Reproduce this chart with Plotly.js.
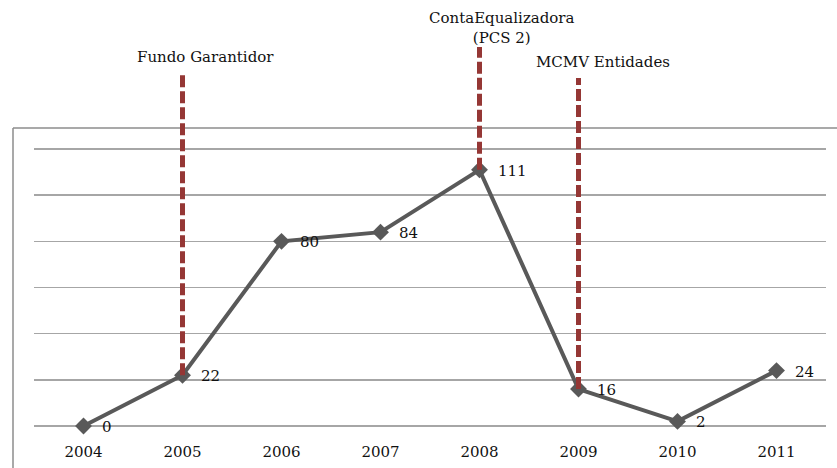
<!DOCTYPE html>
<html>
<head>
<meta charset="utf-8">
<script src="https://cdn.plot.ly/plotly-3.0.1.min.js"></script>
<style>html,body{margin:0;padding:0;background:#fff;}#chart{width:837px;height:468px;}</style>
</head>
<body>
<div id="chart"></div>
<script>
// Data
var years = ["2004", "2005", "2006", "2007", "2008", "2009", "2010", "2011"];
var values = [0, 22, 80, 84, 111, 16, 2, 24];
var yTicks = [0, 20, 40, 60, 80, 100, 120];

// Event markers (vertical dashed lines)
var eventYears = ["2005", "2008", "2009"];
var eventLabels = ["Fundo Garantidor", "ContaEqualizadora<br>(PCS 2)", "MCMV Entidades"];

var FONT = "DejaVu Serif, Liberation Serif, serif";
var GREY = "#595959";
var RED = "#953735";
var TXT = "#111111";

var L = 34, R = 11, T = 20, B = 40, W = 837, H = 468;
var plotW = W - L - R, plotH = H - T - B;
var k = 2.308; // px per unit
var yMin = -(H - B - 426) / k;
var yMax = yMin + plotH / k;
function pxToY(px) { return (426 - px) / k; }

var eventTopPx = [75, 47, 78];
var labelPx = [57, 28, 62];

var shapes = [];
var annotations = [];

// outer frame (top + left edges)
shapes.push({type: "line", xref: "paper", yref: "paper",
  x0: (13 - L) / plotW, x1: (W + 5 - L) / plotW,
  y0: (H - B - 128) / plotH, y1: (H - B - 128) / plotH,
  line: {color: "#8c8c8c", width: 1.5}});
shapes.push({type: "line", xref: "paper", yref: "paper",
  x0: (13 - L) / plotW, x1: (13 - L) / plotW,
  y0: (H - B - 128) / plotH, y1: (H - B - 470) / plotH,
  line: {color: "#8c8c8c", width: 1.5}});

eventYears.forEach(function (yr, i) {
  var idx = years.indexOf(yr);
  shapes.push({type: "line", xref: "x", yref: "y", layer: "above",
    x0: idx, x1: idx, y0: values[idx], y1: pxToY(eventTopPx[i]),
    line: {color: RED, width: 5, dash: "12px,4px"}});
  annotations.push({x: idx, y: pxToY(labelPx[i]), xref: "x", yref: "y",
    text: eventLabels[i], showarrow: false, xanchor: "center", yanchor: "middle",
    xshift: i === 0 ? 23 : (i === 1 ? 22 : 24),
    font: {family: FONT, size: 15, color: TXT}});
});

values.forEach(function (v, i) {
  annotations.push({x: i, y: v, xref: "x", yref: "y", text: String(v),
    showarrow: false, xanchor: "left", yanchor: "middle", xshift: 16, yshift: -1,
    font: {family: FONT, size: 15, color: TXT}});
});

var trace = {
  x: years, y: values, type: "scatter", mode: "lines+markers",
  line: {color: GREY, width: 4},
  marker: {symbol: "diamond", size: 13, color: GREY},
  cliponaxis: false, hoverinfo: "skip"
};

var layout = {
  width: W, height: H,
  margin: {l: L, r: R, t: T, b: B, pad: 0},
  paper_bgcolor: "#fff", plot_bgcolor: "#fff",
  showlegend: false,
  xaxis: {type: "category", range: [-0.5, 7.5], showgrid: false, zeroline: false,
    showline: false, ticks: "outside", ticklen: 10, tickcolor: "rgba(0,0,0,0)",
    tickfont: {family: FONT, size: 15, color: TXT}, fixedrange: true},
  yaxis: {range: [yMin, yMax], tickmode: "array", tickvals: yTicks, showticklabels: false,
    showgrid: true, gridcolor: "#a6a6a6", gridwidth: 1.5, zeroline: false, showline: false,
    fixedrange: true},
  shapes: shapes,
  annotations: annotations
};

Plotly.newPlot("chart", [trace], layout, {displayModeBar: false, staticPlot: true});
</script>
</body>
</html>
